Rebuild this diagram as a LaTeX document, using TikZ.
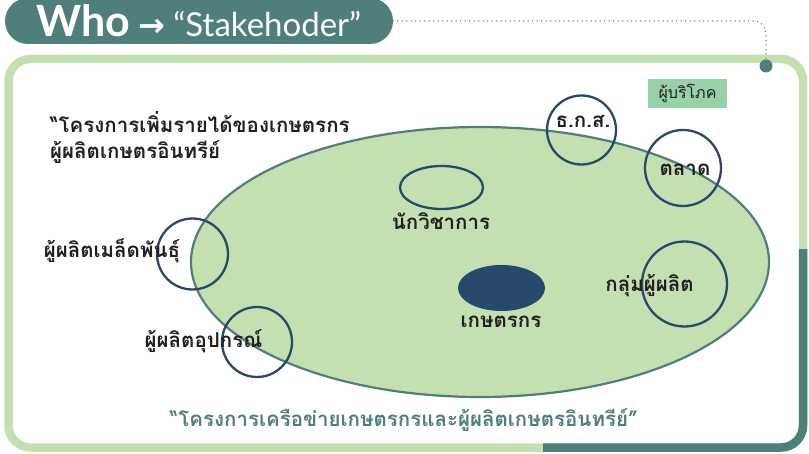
\documentclass[tikz,border=0pt]{standalone}
\usepackage{fontspec}
\setmainfont{Lato}
\newfontfamily\thaifont[Script=Thai]{Loma}
\newfontfamily\arrowfont{DejaVu Sans}
\usetikzlibrary{shapes.geometric}
\definecolor{deepteal}{RGB}{79,127,122}
\definecolor{leafgreen}{RGB}{196,224,176}
\definecolor{navy}{RGB}{39,73,109}
\definecolor{mint}{RGB}{150,209,167}
\definecolor{ink}{RGB}{35,31,32}
\tikzset{
  frameline/.style = {line width=8.5pt, rounded corners=22pt},
  titlepill/.style = {fill=deepteal, text=white, rounded corners=23pt,
    minimum width=388pt, minimum height=46pt, inner sep=0pt},
  dotline/.style = {deepteal, line width=1.5pt, line cap=round,
    dash pattern=on 0pt off 4.5pt, rounded corners=12pt},
  pindot/.style = {circle, fill=deepteal, minimum size=13pt, inner sep=0pt},
  field/.style = {ellipse, fill=leafgreen, draw=deepteal, line width=2.2pt,
    inner sep=0pt},
  ring/.style = {circle, draw=navy, line width=2.3pt, inner sep=0pt},
  stakeholder/.style = {text=ink, font=\thaifont\bfseries\fontsize{20.5}{26}\selectfont,
    anchor=base, inner sep=0pt}
}

\begin{document}
\begin{tikzpicture}[x=1pt,y=-1pt]
  \useasboundingbox (0,0) rectangle (809,454);
  % frame with shadow corner
  \draw[frameline,leafgreen] (8.5,59) rectangle (803,447.5);
  \begin{scope}
    \clip (543,250) rectangle (809,454);
    \draw[frameline,deepteal] (8.5,59) rectangle (803,447.5);
  \end{scope}
  % title
  \node[titlepill] (title) at (199,21)
    {{\bfseries\fontsize{43}{44}\selectfont Who}\hspace{8pt}{\arrowfont\bfseries\fontsize{32}{32}\selectfont →}\hspace{8pt}{\fontsize{33}{34}\selectfont “Stakehoder”}};
  \node[pindot] (hook) at (766,66) {};
  \draw[dotline] (title.east) -| (hook.north);
  % network field
  \node[field, minimum width=578pt, minimum height=270pt] (farm) at (480,262) {};
  \node[ellipse, draw=navy, line width=2.3pt, minimum width=83pt, minimum height=43pt] (scholar) at (441.5,187.5) {};
  \node[ellipse, fill=navy, minimum width=87pt, minimum height=46pt] (core) at (501.5,288) {};
  % stakeholder circles
  \foreach \name/\x/\y/\d in {bank/581.5/130/69, market/683/168/76, group/684.5/284/85,
                               seed/192.5/254/71, tool/257/342/70} {
    \node[ring, minimum size=\d pt] (\name) at (\x,\y) {};
  }
  % labels
  \node[stakeholder] (bank-text) at (583,128) {ธ.ก.ส.};
  \node[stakeholder] (market-text) at (685,176) {ตลาด};
  \node[stakeholder] (group-text) at (649.5,292) {กลุ่มผู้ผลิต};
  \node[stakeholder] (seed-text) at (112,258) {ผู้ผลิตเมล็ดพันธุ์};
  \node[stakeholder] (tool-text) at (203.5,348) {ผู้ผลิตอุปกรณ์};
  \node[stakeholder] (scholar-text) at (441,230) {นักวิชาการ};
  \node[stakeholder] (core-text) at (501,328) {เกษตรกร};
  \node[fill=mint, text=ink, font=\thaifont\fontsize{16}{18}\selectfont,
    minimum width=79pt, minimum height=29pt, inner sep=0pt] (consumer) at (687.5,93.5) {ผู้บริโภค};
  \node[stakeholder, anchor=north west, align=left] (project) at (50,111)
    {“โครงการเพิ่มรายได้ของเกษตรกร\\ผู้ผลิตเกษตรอินทรีย์};
  \node[stakeholder, text=deepteal] (network) at (404,427)
    {“โครงการเครือข่ายเกษตรกรและผู้ผลิตเกษตรอินทรีย์”};
\end{tikzpicture}
\end{document}
